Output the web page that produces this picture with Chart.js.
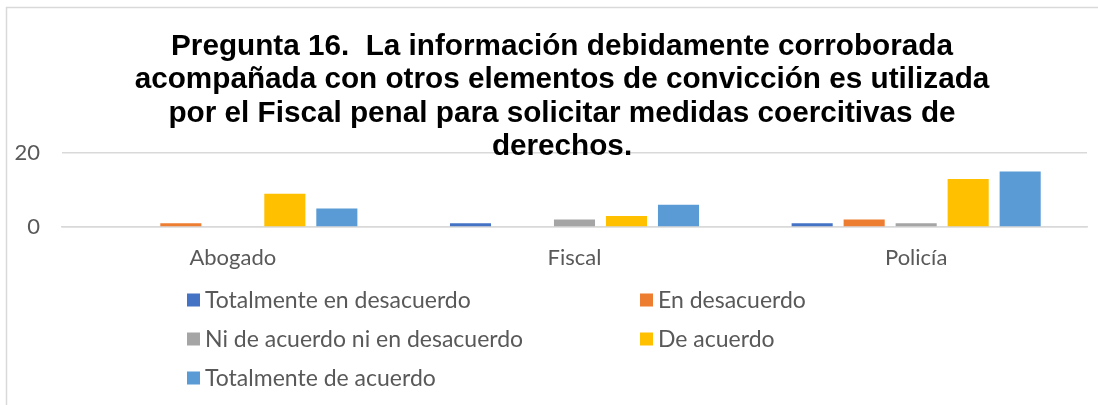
<!DOCTYPE html>
<html>
<head>
<meta charset="utf-8">
<script src="https://cdn.jsdelivr.net/npm/chart.js@4"></script>
<style>
  html, body { margin: 0; padding: 0; background: #fff; }
  #wrap { width: 1098px; height: 405px; position: relative; }
</style>
</head>
<body>
<div id="wrap"><canvas id="chart" width="1098" height="405"></canvas></div>
<script>
// chart data
const categories = ['Abogado', 'Fiscal', 'Policía'];
const seriesNames = ['Totalmente en desacuerdo', 'En desacuerdo', 'Ni de acuerdo ni en desacuerdo', 'De acuerdo', 'Totalmente de acuerdo'];
const seriesColors = ['#4472C4', '#ED7D31', '#A5A5A5', '#FFC000', '#5B9BD5'];
const totalmenteEnDesacuerdo = [0, 1, 1];
const enDesacuerdo = [1, 0, 2];
const niDeAcuerdo = [0, 2, 1];
const deAcuerdo = [9, 3, 13];
const totalmenteDeAcuerdo = [5, 6, 15];
const yTicks = [0, 20];
const titleLines = [
  'Pregunta 16.  La información debidamente corroborada',
  'acompañada con otros elementos de convicción es utilizada',
  'por el Fiscal penal para solicitar medidas coercitivas de',
  'derechos.'
];

const seriesValues = [totalmenteEnDesacuerdo, enDesacuerdo, niDeAcuerdo, deAcuerdo, totalmenteDeAcuerdo];
const labelFont = 'Lato, "Open Sans", sans-serif';
const textGray = '#595959';

// frame, title and two-column legend drawn on the canvas
const decorPlugin = {
  id: 'decor',
  beforeDraw(chart) {
    const ctx = chart.ctx;
    ctx.save();
    ctx.strokeStyle = '#d9d9d9';
    ctx.lineWidth = 1.5;
    ctx.beginPath();
    ctx.moveTo(6.5, 405);
    ctx.lineTo(6.5, 7.5);
    ctx.lineTo(1098, 7.5);
    ctx.stroke();
    ctx.restore();
  },
  afterDraw(chart) {
    const ctx = chart.ctx;
    ctx.save();
    // title
    ctx.fillStyle = '#000';
    ctx.font = 'bold 29.7px "Liberation Sans", Arial, sans-serif';
    ctx.textAlign = 'center';
    ctx.textBaseline = 'middle';
    titleLines.forEach((line, i) => {
      ctx.fillText(line, 562, 47 + i * 33.3);
    });
    // legend
    const cols = [187, 640];
    const rows = [300, 339, 378];
    ctx.font = '23px ' + labelFont;
    ctx.textAlign = 'left';
    chart.data.datasets.forEach((ds, i) => {
      const x = cols[i % 2];
      const y = rows[Math.floor(i / 2)];
      ctx.fillStyle = ds.backgroundColor;
      ctx.fillRect(x, y - 6.5, 13, 13);
      ctx.fillStyle = textGray;
      ctx.fillText(ds.label, x + 18, y + 1);
    });
    ctx.restore();
  }
};

new Chart(document.getElementById('chart'), {
  type: 'bar',
  data: {
    labels: categories,
    datasets: seriesNames.map((name, i) => ({
      label: name,
      data: seriesValues[i],
      backgroundColor: seriesColors[i],
      categoryPercentage: 0.761,
      barPercentage: 0.79
    }))
  },
  options: {
    responsive: false,
    animation: false,
    layout: { padding: { top: 153, left: 10, right: 11, bottom: 118 } },
    plugins: {
      legend: { display: false },
      title: { display: false },
      tooltip: { enabled: false }
    },
    scales: {
      x: {
        grid: { display: false },
        border: { color: '#d9d9d9', width: 1.5 },
        ticks: { color: textGray, font: { family: labelFont, size: 22 }, padding: 10 },
        afterFit(scale) { scale.height = 60; }
      },
      y: {
        min: 0,
        max: 20,
        afterBuildTicks(scale) { scale.ticks = yTicks.map(v => ({ value: v })); },
        grid: { color: '#d9d9d9', lineWidth: 1.5, drawTicks: false },
        border: { display: false },
        ticks: { color: textGray, font: { family: labelFont, size: 22 }, padding: 22 },
        afterFit(scale) { scale.width = 52; }
      }
    }
  },
  plugins: [decorPlugin]
});
</script>
</body>
</html>
